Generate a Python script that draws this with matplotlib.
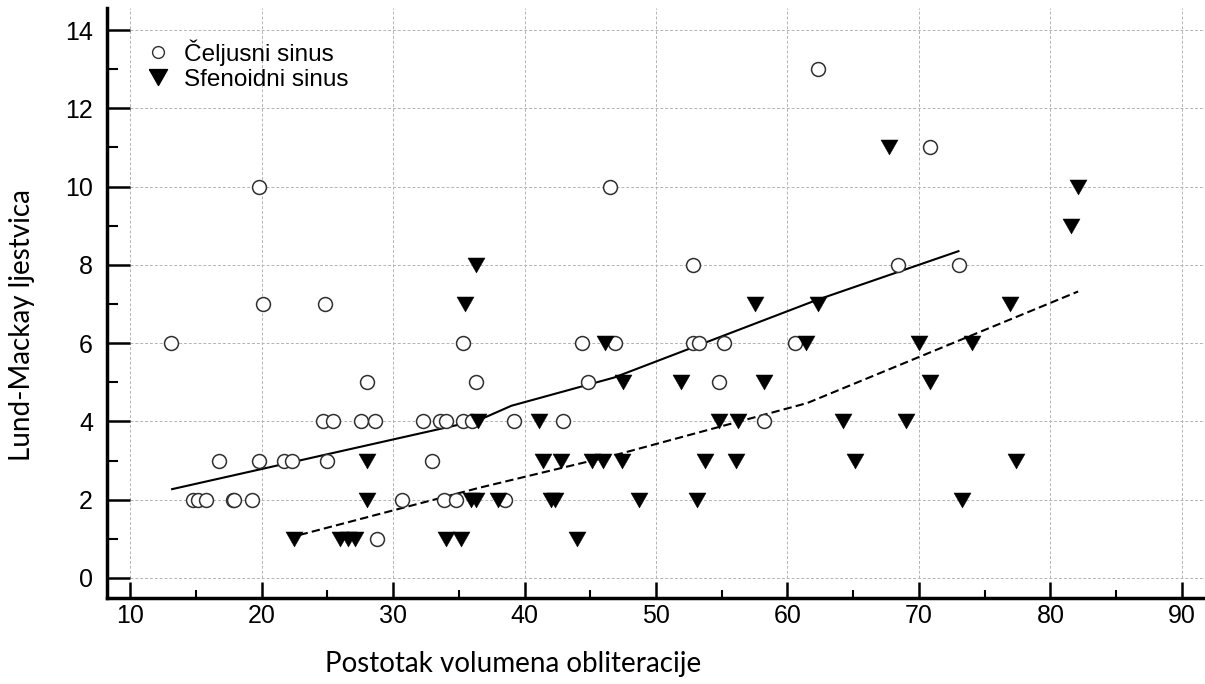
import matplotlib
matplotlib.use("Agg")
import matplotlib.pyplot as plt
from matplotlib.lines import Line2D
from matplotlib.ticker import MultipleLocator

# ---------------- data ----------------
celj_x = [62.3,
          70.8,
          19.8, 46.5,
          52.8, 68.4, 73.05,
          20.1, 24.8,
          13.1, 35.35, 44.4, 46.9, 52.8, 53.3, 55.2, 60.6,
          28.0, 36.3, 44.8, 54.8,
          24.7, 25.4, 27.6, 28.6, 32.3, 33.6, 34.0, 35.3, 36.0, 39.2, 42.9, 58.2,
          16.8, 19.8, 21.7, 22.3, 24.96, 33.0,
          14.8, 15.2, 15.8, 17.8, 17.9, 19.3, 30.7, 33.9, 34.8, 38.5,
          28.8]
celj_y = [13,
          11,
          10, 10,
          8, 8, 8,
          7, 7,
          6, 6, 6, 6, 6, 6, 6, 6,
          5, 5, 5, 5,
          4, 4, 4, 4, 4, 4, 4, 4, 4, 4, 4, 4,
          3, 3, 3, 3, 3, 3,
          2, 2, 2, 2, 2, 2, 2, 2, 2, 2,
          1]

sfen_x = [67.7,
          82.1,
          81.55,
          36.3,
          35.5, 57.5, 62.3, 76.9,
          46.1, 61.4, 70.0, 74.0,
          47.5, 51.9, 58.2, 70.8,
          36.5, 41.1, 54.8, 56.2, 64.2, 69.0,
          28.05, 41.4, 42.8, 45.1, 46.0, 47.4, 53.7, 56.05, 65.1, 77.4,
          28.0, 35.9, 36.3, 38.0, 42.0, 42.3, 48.7, 53.1, 73.25,
          22.5, 26.0, 26.6, 27.1, 34.0, 35.2, 44.0]
sfen_y = [11,
          10,
          9,
          8,
          7, 7, 7, 7,
          6, 6, 6, 6,
          5, 5, 5, 5,
          4, 4, 4, 4, 4, 4,
          3, 3, 3, 3, 3, 3, 3, 3, 3, 3,
          2, 2, 2, 2, 2, 2, 2, 2, 2,
          1, 1, 1, 1, 1, 1, 1]

fit_celj_x = [13.2, 36.5, 39.0, 46.8, 62.2, 73.0]
fit_celj_y = [2.27, 4.03, 4.40, 5.12, 7.10, 8.35]
fit_sfen_x = [22.9, 36.5, 47.0, 61.5, 82.1]
fit_sfen_y = [1.10, 2.30, 3.15, 4.47, 7.32]

x_ticks = [10, 20, 30, 40, 50, 60, 70, 80, 90]
y_ticks = [0, 2, 4, 6, 8, 10, 12, 14]
legend_labels = ["Čeljusni sinus", "Sfenoidni sinus"]
x_label = "Postotak volumena obliteracije"
y_label = "Lund-Mackay ljestvica"

# ---------------- style ----------------
plt.rcParams['font.family'] = ['Liberation Sans', 'DejaVu Sans']

W, H = 1205, 684
fig = plt.figure(figsize=(W / 100, H / 100), dpi=100)
ax = fig.add_axes([107 / W, 86 / H, 1098 / W, 590 / H])
ax.set_xlim(8.25, 91.75)
ax.set_ylim(-0.511, 14.563)

grid_kw = dict(colors='#b4b4b4', linestyles=(0, (3, 2)), linewidth=0.7, zorder=0)
ax.hlines(y_ticks, x_ticks[0], 91.75, **grid_kw)
ax.vlines(x_ticks, y_ticks[0], 14.563, **grid_kw)

tri = [(-1, 0.88), (1, 0.88), (0, -0.88), (-1, 0.88)]

ax.plot(fit_celj_x, fit_celj_y, color='black', lw=1.5, zorder=2)
ax.plot(fit_sfen_x, fit_sfen_y, color='black', lw=1.5, ls=(0, (4, 2)), zorder=2)

ax.scatter(celj_x, celj_y, s=10 ** 2, facecolors='white', edgecolors='#303030',
           linewidths=1.1, zorder=3)
ax.scatter(sfen_x, sfen_y, s=12.3 ** 2, marker=tri, facecolors='black',
           edgecolors='black', linewidths=0.3, zorder=3)

for s in ['top', 'right']:
    ax.spines[s].set_visible(False)
for s in ['left', 'bottom']:
    ax.spines[s].set_linewidth(2.5)
    ax.spines[s].set_color('black')

ax.set_xticks(x_ticks)
ax.set_yticks(y_ticks)
ax.xaxis.set_minor_locator(MultipleLocator(5))
ax.yaxis.set_minor_locator(MultipleLocator(1))
ax.tick_params(axis='x', which='major', direction='in', length=11.5, width=1.8,
               pad=4, labelsize=18)
ax.tick_params(axis='x', which='minor', direction='in', length=6, width=1.5)
ax.tick_params(axis='y', which='major', direction='in', length=16.5, width=1.8,
               pad=10, labelsize=18)
ax.tick_params(axis='y', which='minor', direction='in', length=8, width=1.5)

handles = [
    Line2D([], [], marker='o', ls='none', mfc='white', mec='#303030', ms=8.5, mew=1.0),
    Line2D([], [], marker=tri, ls='none', mfc='black', mec='black', ms=13),
]
ax.legend(handles, legend_labels, loc='upper left', bbox_to_anchor=(0.0355, 0.947),
          frameon=False, fontsize=17.5, handlelength=1.0, handletextpad=0.55,
          labelspacing=0.12, borderpad=0, borderaxespad=0)

fig.text(513 / W, 1 - 664 / H, x_label, ha='center', va='center', fontsize=20,
         family=['Lato', 'DejaVu Sans'])
fig.text(22 / W, 1 - 325 / H, y_label, ha='center', va='center', rotation=90,
         fontsize=20, family=['Lato', 'DejaVu Sans'])

fig.savefig('out.png', dpi=100)
